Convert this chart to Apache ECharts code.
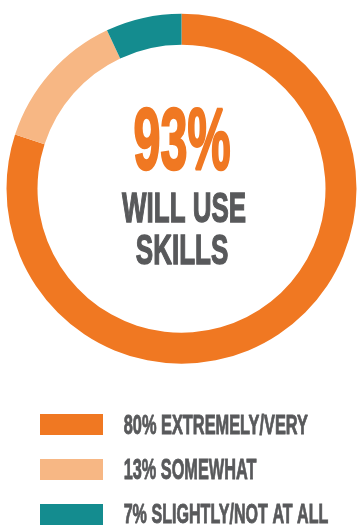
<!DOCTYPE html>
<html><head><meta charset="utf-8">
<script src="https://cdn.jsdelivr.net/npm/echarts@6/dist/echarts.min.js"></script>
<style>html,body{margin:0;padding:0;background:#fff}#c{width:358px;height:525px}</style>
</head><body><div id="c"></div>
<script>
const categories = ['EXTREMELY/VERY', 'SOMEWHAT', 'SLIGHTLY/NOT AT ALL'];
const values = [80, 13, 7];
const colors = ['#F07822', '#F7B784', '#148C8F'];
const headline = '93%';
const centerLines = ['WILL USE', 'SKILLS'];

const FONT = '"Liberation Sans", Arial, sans-serif';
const GRAY = '#58595B';
const ctx = document.createElement('canvas').getContext('2d');
ctx.textBaseline = 'middle';
ctx.textAlign = 'left';
function measure(text, size) {
  ctx.font = 'bold ' + size + 'px ' + FONT;
  return ctx.measureText(text);
}
// fit glyph box of text (plus stroke) into [left,right] x [top,bottom]
function boxText(text, left, right, top, bottom, color, lw) {
  const h = lw / 2;
  const t = top + h, b = bottom - h;
  const m0 = measure(text, 100);
  const size = 100 * (b - t) / (m0.actualBoundingBoxAscent + m0.actualBoundingBoxDescent);
  const m = measure(text, size);
  const gw = m.actualBoundingBoxLeft + m.actualBoundingBoxRight;
  // (gw + lw) * sx = right - left
  const sx = (right - left) / (gw + lw);
  return {
    type: 'text', x: left + (m.actualBoundingBoxLeft + h) * sx, y: t + m.actualBoundingBoxAscent,
    scaleX: sx, silent: true,
    style: { text: text, fill: color, stroke: color, lineWidth: lw,
      font: 'bold ' + size.toFixed(2) + 'px ' + FONT, align: 'left', verticalAlign: 'middle' }
  };
}

const legendLabels = categories.map((c, i) => values[i] + '% ' + c);

const graphics = [
  boxText(headline, 134, 230.5, 106.7, 170.5, colors[0], 2.6),
  boxText(centerLines[0], 121.7, 246, 192.3, 224.3, GRAY, 1.4),
  boxText(centerLines[1], 136, 228.3, 234, 265, GRAY, 1.4),
  boxText(legendLabels[0], 123.5, 308.3, 413.3, 434.3, GRAY, 0.9),
  boxText(legendLabels[1], 124, 256.7, 458.3, 480, GRAY, 0.9),
  boxText(legendLabels[2], 124, 328.3, 502.7, 524, GRAY, 0.9)
];

const chart = echarts.init(document.getElementById('c'), null, { renderer: 'canvas' });
chart.setOption({
  animation: false,
  color: colors,
  legend: {
    orient: 'vertical', left: 40, top: 414, padding: 0, itemWidth: 63, itemHeight: 21, itemGap: 24,
    icon: 'rect', selectedMode: false, formatter: () => '',
    data: categories
  },
  graphic: graphics,
  series: [{
    type: 'pie', center: [181.5, 188.7], radius: [144, 175],
    startAngle: 90, clockwise: true, silent: true,
    label: { show: false }, labelLine: { show: false },
    emphasis: { disabled: true },
    itemStyle: { borderWidth: 0 },
    data: categories.map((c, i) => ({ name: c, value: values[i] }))
  }]
});
</script></body></html>
